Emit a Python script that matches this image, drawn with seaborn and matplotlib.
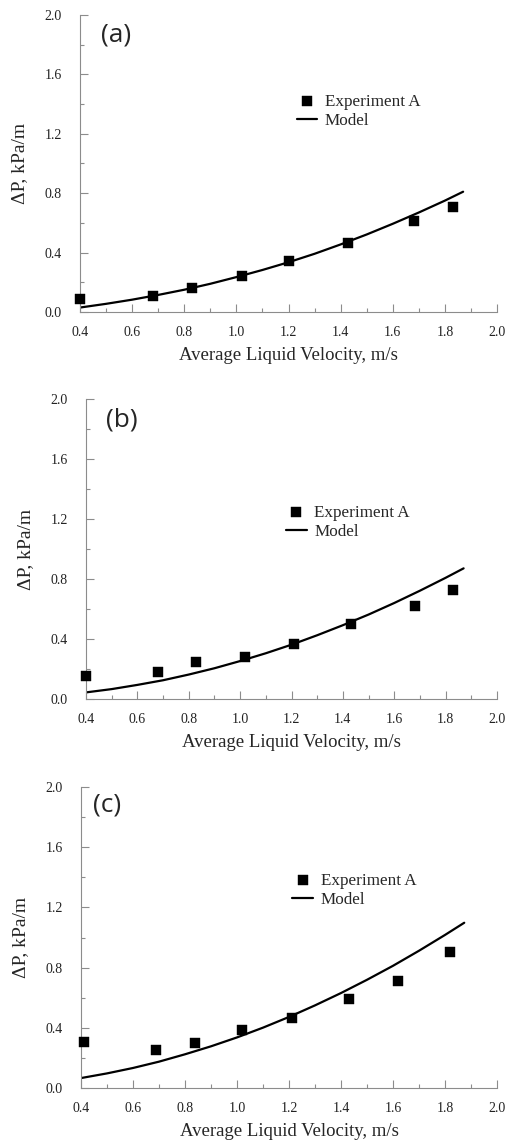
import matplotlib
matplotlib.use("Agg")
import matplotlib.pyplot as plt
from matplotlib.ticker import MultipleLocator
import seaborn as sns
import pandas as pd

# ---------------- data ----------------
panel_labels = ["(a)", "(b)", "(c)"]

exp_a_x = [0.40, 0.68, 0.83, 1.02, 1.20, 1.43, 1.68, 1.83]
exp_a_y = [0.09, 0.108, 0.164, 0.24, 0.346, 0.467, 0.613, 0.706]
model_a_x = [0.40, 0.50, 0.60, 0.70, 0.80, 0.90, 1.00, 1.10, 1.20, 1.30, 1.40, 1.50, 1.60, 1.70, 1.80, 1.87]
model_a_y = [0.030, 0.055, 0.083, 0.115, 0.150, 0.190, 0.235, 0.283, 0.335, 0.392, 0.455, 0.522, 0.594, 0.670, 0.750, 0.810]

exp_b_x = [0.40, 0.68, 0.83, 1.02, 1.21, 1.43, 1.68, 1.83]
exp_b_y = [0.156, 0.178, 0.244, 0.28, 0.369, 0.498, 0.618, 0.724]
model_b_x = [0.40, 0.50, 0.60, 0.70, 0.80, 0.90, 1.00, 1.10, 1.20, 1.30, 1.40, 1.50, 1.60, 1.70, 1.80, 1.87]
model_b_y = [0.044, 0.066, 0.094, 0.125, 0.163, 0.205, 0.253, 0.305, 0.362, 0.425, 0.492, 0.563, 0.640, 0.722, 0.808, 0.871]

exp_c_x = [0.41, 0.69, 0.84, 1.02, 1.21, 1.43, 1.62, 1.82]
exp_c_y = [0.303, 0.254, 0.30, 0.385, 0.466, 0.59, 0.714, 0.904]
model_c_x = [0.40, 0.50, 0.60, 0.70, 0.80, 0.90, 1.00, 1.10, 1.20, 1.30, 1.40, 1.50, 1.60, 1.70, 1.80, 1.874]
model_c_y = [0.066, 0.097, 0.133, 0.175, 0.224, 0.277, 0.336, 0.401, 0.472, 0.549, 0.631, 0.719, 0.812, 0.912, 1.017, 1.098]

x_label = "Average Liquid Velocity, m/s"
y_label = "ΔP, kPa/m"
legend_labels = ["Experiment A", "Model"]

# ---------------- style ----------------
sns.set_theme(style="ticks")
plt.rcParams["font.family"] = ["Liberation Serif", "DejaVu Serif"]

fig = plt.figure(figsize=(5.07, 11.44), dpi=100)

W, H = 507.0, 1144.0
# axes boxes in pixels: left, top, right, bottom
boxes = [(80, 15, 497, 312), (86, 399, 497, 699), (81, 787, 497, 1088)]
legend_anchor = [(0.52, 0.735), (0.487, 0.648), (0.508, 0.715)]
panel_pos = [(0.54, 1.865), (0.54, 1.86), (0.50, 1.88)]

datasets = [
    (exp_a_x, exp_a_y, model_a_x, model_a_y),
    (exp_b_x, exp_b_y, model_b_x, model_b_y),
    (exp_c_x, exp_c_y, model_c_x, model_c_y),
]

spine_col = "#8c8c8c"

for i, (ex, ey, mx, my) in enumerate(datasets):
    l, t, r, b = boxes[i]
    ax = fig.add_axes([l / W, 1 - b / H, (r - l) / W, (b - t) / H])

    exp_df = pd.DataFrame({"v": ex, "dp": ey})
    mod_df = pd.DataFrame({"v": mx, "dp": my})

    sns.lineplot(data=mod_df, x="v", y="dp", ax=ax, color="black", lw=1.6,
                 label=legend_labels[1], zorder=2)
    sns.scatterplot(data=exp_df, x="v", y="dp", ax=ax, marker="s", s=46,
                    color="black", edgecolor="black", linewidth=0.3,
                    label=legend_labels[0], zorder=3, clip_on=False)

    ax.set_xlim(0.4, 2.0)
    ax.set_ylim(0.0, 2.0)
    ax.xaxis.set_major_locator(MultipleLocator(0.2))
    ax.xaxis.set_minor_locator(MultipleLocator(0.1))
    ax.yaxis.set_major_locator(MultipleLocator(0.4))
    ax.yaxis.set_minor_locator(MultipleLocator(0.2))
    ax.xaxis.set_major_formatter(plt.FormatStrFormatter("%.1f"))
    ax.yaxis.set_major_formatter(plt.FormatStrFormatter("%.1f"))

    ax.tick_params(axis="both", which="major", direction="in", length=6,
                   width=0.8, color=spine_col, labelsize=10, labelcolor="#222222")
    ax.tick_params(axis="both", which="minor", direction="in", length=3,
                   width=0.8, color=spine_col)
    ax.tick_params(axis="x", which="major", pad=10)
    ax.tick_params(axis="y", which="major", pad=13)

    for s in ["top", "right"]:
        ax.spines[s].set_visible(False)
    for s in ["left", "bottom"]:
        ax.spines[s].set_color(spine_col)
        ax.spines[s].set_linewidth(0.8)

    ax.set_xlabel(x_label, fontsize=13.5, labelpad=6)
    ax.set_ylabel(y_label, fontsize=14, labelpad=12)

    handles, labels = ax.get_legend_handles_labels()
    order = [labels.index(legend_labels[0]), labels.index(legend_labels[1])]
    ax.legend([handles[j] for j in order], [labels[j] for j in order],
              loc="upper left", bbox_to_anchor=legend_anchor[i], frameon=False,
              fontsize=12.3, borderpad=0, borderaxespad=0, labelspacing=0.2,
              handlelength=1.2, handletextpad=0.45, markerscale=1.0)

    ax.text(panel_pos[i][0], panel_pos[i][1], panel_labels[i], fontsize=19,
            family=["Open Sans", "DejaVu Sans"], ha="center", va="center")

fig.savefig("out.png", dpi=100)
